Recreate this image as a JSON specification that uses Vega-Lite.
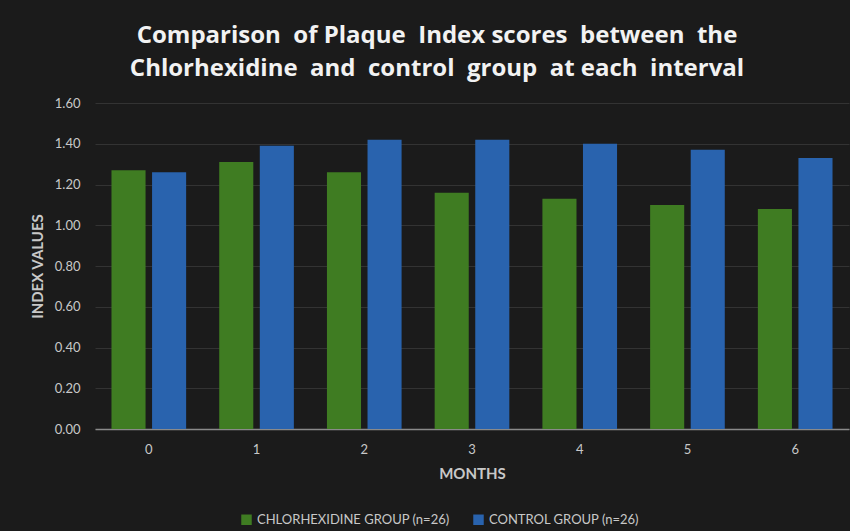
{
  "$schema": "https://vega.github.io/schema/vega-lite/v6.json",
  "autosize": {"type": "none"},
  "width": 754,
  "height": 326,
  "padding": {"left": 95, "top": 103, "right": 1, "bottom": 102},
  "background": "#1b1b1b",
  "title": {
    "text": ["Comparison\u00a0 of Plaque\u00a0 Index scores\u00a0 between\u00a0 the", "Chlorhexidine\u00a0 and\u00a0 control\u00a0 group\u00a0 at each\u00a0 interval"],
    "font": "Open Sans",
    "fontSize": 24,
    "fontWeight": "bold",
    "color": "#f2f2f2",
    "lineHeight": 33,
    "anchor": "middle",
    "dx": -35,
    "offset": 16
  },
  "data": {
    "values": [
      {"month": "0", "group": "CHLORHEXIDINE GROUP (n=26)", "value": 1.27},
      {"month": "0", "group": "CONTROL GROUP (n=26)", "value": 1.26},
      {"month": "1", "group": "CHLORHEXIDINE GROUP (n=26)", "value": 1.31},
      {"month": "1", "group": "CONTROL GROUP (n=26)", "value": 1.39},
      {"month": "2", "group": "CHLORHEXIDINE GROUP (n=26)", "value": 1.26},
      {"month": "2", "group": "CONTROL GROUP (n=26)", "value": 1.42},
      {"month": "3", "group": "CHLORHEXIDINE GROUP (n=26)", "value": 1.16},
      {"month": "3", "group": "CONTROL GROUP (n=26)", "value": 1.42},
      {"month": "4", "group": "CHLORHEXIDINE GROUP (n=26)", "value": 1.13},
      {"month": "4", "group": "CONTROL GROUP (n=26)", "value": 1.40},
      {"month": "5", "group": "CHLORHEXIDINE GROUP (n=26)", "value": 1.10},
      {"month": "5", "group": "CONTROL GROUP (n=26)", "value": 1.37},
      {"month": "6", "group": "CHLORHEXIDINE GROUP (n=26)", "value": 1.08},
      {"month": "6", "group": "CONTROL GROUP (n=26)", "value": 1.33}
    ]
  },
  "mark": {"type": "bar"},
  "encoding": {
    "x": {
      "field": "month",
      "type": "nominal",
      "sort": null,
      "scale": {"paddingInner": 0.307, "paddingOuter": 0.153},
      "axis": {
        "title": "MONTHS",
        "labelAngle": 0,
        "ticks": false,
        "labelPadding": 14,
        "titlePadding": 10,
        "titleFontSize": 15,
        "domainColor": "#8a8a8a",
        "domainWidth": 1.5,
        "grid": false
      }
    },
    "xOffset": {
      "field": "group",
      "type": "nominal",
      "scale": {"paddingInner": 0.16}
    },
    "y": {
      "field": "value",
      "type": "quantitative",
      "scale": {"domain": [0, 1.6]},
      "axis": {
        "title": "INDEX VALUES",
        "format": ".2f",
        "values": [0, 0.2, 0.4, 0.6, 0.8, 1.0, 1.2, 1.4, 1.6],
        "ticks": false,
        "domain": false,
        "labelPadding": 15,
        "titlePadding": 9,
        "titleFontSize": 15,
        "gridColor": "#333333",
        "gridWidth": 1
      }
    },
    "color": {
      "field": "group",
      "type": "nominal",
      "scale": {"range": ["#3f7c22", "#2963ae"]},
      "legend": {
        "title": null,
        "orient": "none",
        "direction": "horizontal",
        "legendX": 145,
        "legendY": 410,
        "symbolType": "square",
        "symbolSize": 110,
        "symbolStrokeWidth": 0,
        "columnPadding": 22,
        "labelOffset": 4,
        "labelLimit": 400
      }
    }
  },
  "config": {
    "font": "Lato",
    "view": {"stroke": null},
    "axis": {
      "labelFont": "Lato",
      "labelFontSize": 13,
      "labelColor": "#c8c8c8",
      "titleFont": "Lato",
      "titleFontSize": 14,
      "titleFontWeight": "bold",
      "titleColor": "#c8c8c8"
    },
    "legend": {
      "labelFont": "Lato",
      "labelFontSize": 13,
      "labelColor": "#c8c8c8"
    }
  }
}
